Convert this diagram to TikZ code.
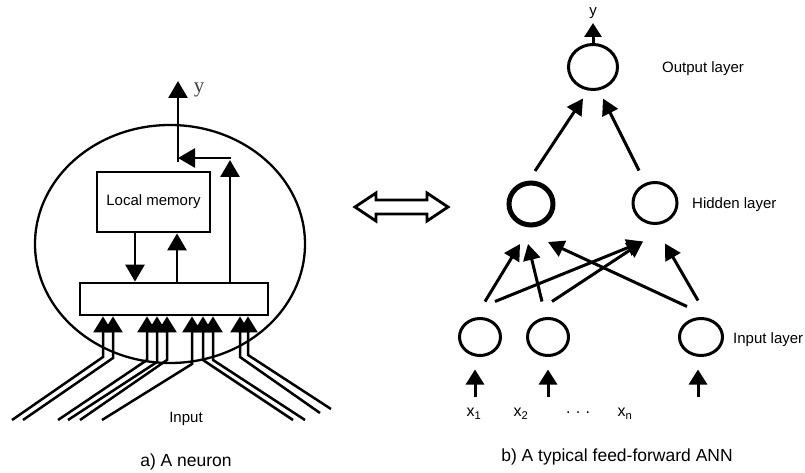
\documentclass[tikz,border=0pt]{standalone}
\usepackage{fontspec}
\setmainfont{Liberation Sans}
\newfontfamily\seriffont{Liberation Serif}
\usetikzlibrary{arrows.meta,shapes.geometric}
\begin{document}
\begin{tikzpicture}[x=1pt,y=-1pt,
  lw/.style={line width=2.8pt},
  arrL/.style={line width=2.8pt,-{Triangle[length=17pt,width=19pt]}},
  arrIn/.style={line width=2.5pt,-{Triangle[length=16pt,width=19pt]}},
  arrR/.style={line width=3pt,-{Triangle[length=16pt,width=17pt]}},
  arrS/.style={line width=3pt,-{Triangle[length=15pt,width=18pt]}},
  neu/.style={ellipse,draw,line width=3pt,inner sep=0pt},
  lbl/.style={font=\fontsize{15}{18}\selectfont, inner sep=0pt},
  xl/.style={font=\fontsize{16}{18}\selectfont, inner sep=0pt},
  captxt/.style={font=\fontsize{17.5}{21}\selectfont, inner sep=0pt}]
\useasboundingbox (0,0) rectangle (805,473);

% ---------- a) A neuron ----------
\node[draw, ellipse, line width=2.3pt, minimum width=270pt, minimum height=238pt, inner sep=0pt] (body) at (170,244) {};
\node[draw, lw, minimum width=113pt, minimum height=60pt, lbl] (mem) at (153.5,202) {Local memory};
\node[draw, lw, minimum width=188pt, minimum height=32pt, inner sep=0pt] (bar) at (174,299) {};

\coordinate (m1) at ([xshift=-18.5pt]mem.south);
\coordinate (m2) at ([xshift=23.5pt]mem.south);
\coordinate (m3) at (230,160);
\coordinate (cr) at (231.4,158);
\coordinate (elb) at (178,158);
\coordinate (elbb) at (178,162);
\coordinate (yt) at (178,81);
\draw[arrL] (m1) -- (m1 |- bar.north);
\draw[arrL] (m2 |- bar.north) -- (m2);
\draw[arrL] (m3 |- bar.north) -- (m3);
\draw[arrL] (cr) -- (elb);
\draw[arrL] (elbb) -- (yt);
\node[font=\seriffont\fontsize{21}{24}\selectfont, text=black!75, inner sep=0pt] (ylab) at (199,90) {y};

\foreach \x/\b/\ex/\ey in {103/357/12/420, 113/358/23/420, 147/360/58/420, 157/362/68/420, 167/360/80/420, 192/364/102/420, 203/360/293/420, 213/360/305/420, 240/357/320/413, 248/355/331/409}{
  \coordinate (e\x) at (\ex,\ey);
  \draw[arrIn] (e\x) -- (\x,\b) -- (\x,0 |- bar.south);
}
\node[lbl] (inp) at (186,419) {Input};
\node[captxt] (capa) at (186,462) {a) A neuron};

% ---------- double arrow ----------
\draw[line width=2.8pt, line join=miter] (355,207) -- (376,193) -- (376,200) -- (427,200) -- (427,193) -- (448,207) -- (427,221) -- (427,214) -- (376,214) -- (376,221) -- cycle;

% ---------- b) feed-forward ANN ----------
\node[neu, minimum width=49pt, minimum height=45pt] (out) at (593,67) {};
\node[neu, line width=5pt, minimum width=44pt, minimum height=42pt] (hid1) at (531,204) {};
\node[neu, minimum width=44pt, minimum height=41pt] (hid2) at (655,203) {};
\node[neu, minimum width=41pt, minimum height=37pt] (in1) at (480,337) {};
\node[neu, minimum width=41pt, minimum height=37pt] (in2) at (548,337) {};
\node[neu, minimum width=43pt, minimum height=37pt] (in3) at (701,337) {};

\draw[arrR] ([xshift=5pt,yshift=15.5pt]in1.north) -- ([xshift=-11pt,yshift=-16.5pt]hid1.south);
\draw[arrR] ([xshift=-6pt,yshift=15.5pt]in2.north) -- ([xshift=-3pt,yshift=-16.5pt]hid1.south);
\draw[arrR] ([xshift=15pt,yshift=15.5pt]in1.north) -- ([xshift=-12pt,yshift=-16.5pt]hid2.south);
\draw[arrR] ([xshift=4pt,yshift=15.5pt]in2.north) -- ([xshift=-12pt,yshift=-16.5pt]hid2.south);
\draw[arrR] ([xshift=-14pt,yshift=10.5pt]in3.north) -- ([xshift=17pt,yshift=-14.5pt]hid1.south);
\draw[arrR] ([xshift=-3pt,yshift=16.5pt]in3.north) -- ([xshift=10pt,yshift=-18.5pt]hid2.south);
\draw[arrR] ([xshift=4pt,yshift=9.5pt]hid1.north) -- ([xshift=-10pt,yshift=-7.5pt]out.south);
\draw[arrR] ([xshift=-16pt,yshift=10.5pt]hid2.north) -- ([xshift=10pt,yshift=-7.5pt]out.south);

\node[lbl] (yr) at (593,13) {y};
\coordinate (ytop) at (593,23);
\draw[line width=3pt,-{Triangle[length=14pt,width=17pt]}] (out.north) -- (ytop);

\coordinate (s1) at (475,397);
\coordinate (s2) at (548,397);
\coordinate (s3) at (698,397);
\draw[arrS] (s1) -- ([xshift=-5pt,yshift=-12.5pt]in1.south);
\draw[arrS] (s2) -- ([yshift=-12.5pt]in2.south);
\draw[arrS] (s3) -- ([xshift=-3pt,yshift=-12.5pt]in3.south);

\node[xl] (x1) at (474,414) {x\textsubscript{1}};
\node[xl] (x2) at (521,414) {x\textsubscript{2}};
\node[xl] (dots) at (578,413) {.\,\,.\,\,.};
\node[xl] (xn) at (625,414) {x\textsubscript{n}};

\node[lbl, anchor=base west] (outl) at (662,72.5) {Output layer};
\node[lbl, anchor=base west] (hidl) at (692,208.5) {Hidden layer};
\node[lbl, anchor=base west] (inl) at (733,343.5) {Input layer};
\node[captxt] (capb) at (617,457) {b) A typical feed-forward ANN};
\end{tikzpicture}
\end{document}
